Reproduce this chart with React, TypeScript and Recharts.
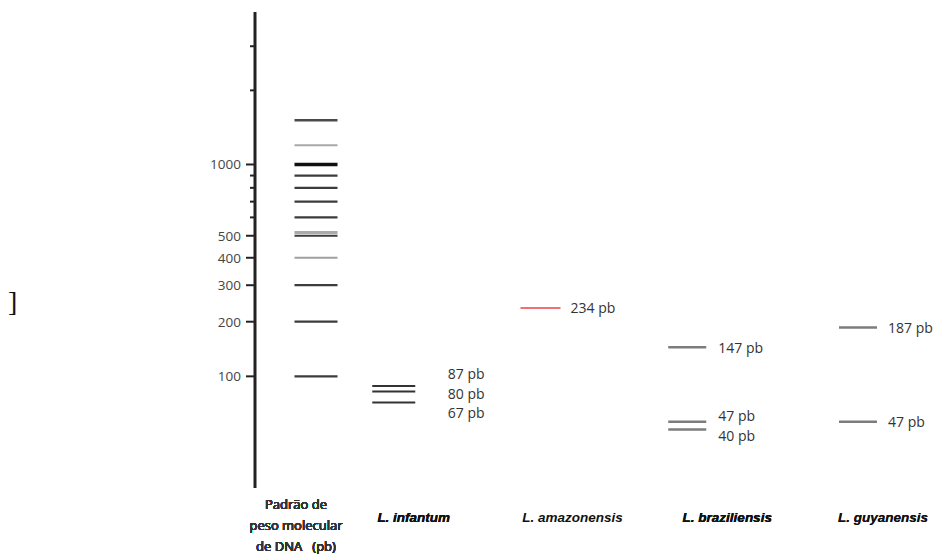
import React from "react";
import { ComposedChart, Scatter, XAxis, YAxis } from "recharts";

// lanes of the gel, left to right
const lanes = [
  "Padrão de\npeso molecular\nde DNA   (pb)",
  "L. infantum",
  "L. amazonensis",
  "L. braziliensis",
  "L. guyanensis",
];

// band sizes (pb) in each lane
const ladderBands = [1517, 1200, 1000, 900, 800, 700, 600, 517, 500, 400, 300, 200, 100];
const infantumBands = [87, 80, 67];
const amazonensisBands = [234];
const braziliensisBands = [147, 47, 40];
const guyanensisBands = [187, 47];

const labeledTicks = [100, 200, 300, 400, 500, 1000];
const minorTicks = [600, 700, 800, 900, 2000, 3000];

const laneBands = [ladderBands, infantumBands, amazonensisBands, braziliensisBands, guyanensisBands];

const W = 951;
const H = 555;
const TOP = 12;
const BOTTOM = 488;
const Y_DOMAIN = [0, 4100];

// symlog scale (log(1 + v / c)), gel migration is roughly like this
function symlogScale(c: number) {
  let dom = [0, 1];
  let rng = [0, 1];
  const t = (v: number) => Math.sign(v) * Math.log1p(Math.abs(v) / c);
  const tInv = (u: number) => Math.sign(u) * Math.expm1(Math.abs(u)) * c;
  const s: any = (v: number) => {
    const a = t(dom[0]);
    const b = t(dom[1]);
    return rng[0] + ((t(v) - a) / (b - a)) * (rng[1] - rng[0]);
  };
  s.domain = (d?: number[]) => {
    if (d === undefined) return dom.slice();
    dom = d.map(Number);
    return s;
  };
  s.range = (r?: number[]) => {
    if (r === undefined) return rng.slice();
    rng = r.map(Number);
    return s;
  };
  s.invert = (p: number) => {
    const a = t(dom[0]);
    const b = t(dom[1]);
    return tInv(a + ((p - rng[0]) / (rng[1] - rng[0])) * (b - a));
  };
  s.ticks = () => [...labeledTicks, ...minorTicks].sort((a, b) => a - b);
  s.tickFormat = () => (v: number) => String(v);
  s.clamp = () => s;
  s.nice = () => s;
  s.copy = () => symlogScale(c).domain(dom).range(rng);
  return s;
}

const yScale = symlogScale(58).domain(Y_DOMAIN).range([BOTTOM, TOP]);

const laneStyle: Record<
  string,
  { dx: number; len: number; color: string; width: number; gap: number; textDx: number }
> = {
  [lanes[0]]: { dx: 35, len: 43, color: "#3c3c3c", width: 2.2, gap: 0, textDx: 15 },
  [lanes[1]]: { dx: -36, len: 43, color: "#333", width: 2, gap: 54, textDx: -16 },
  [lanes[2]]: { dx: -38, len: 40, color: "#f07078", width: 2, gap: 30, textDx: -6 },
  [lanes[3]]: { dx: -40, len: 38, color: "#7c7c7c", width: 2.5, gap: 31, textDx: 0 },
  [lanes[4]]: { dx: -18, len: 38, color: "#7c7c7c", width: 2.5, gap: 30, textDx: 7 },
};

const ladderTone: Record<number, { color: string; width: number }> = {
  1517: { color: "#4a4a4a", width: 2.5 },
  1200: { color: "#a8a8a8", width: 2 },
  1000: { color: "#111", width: 3.5 },
  517: { color: "#aaa", width: 3 },
  400: { color: "#a0a0a0", width: 2 },
};

// rows for the chart; close bands get their labels spread apart
const rows: any[] = [];
lanes.forEach((lane, li) => {
  const groups: number[][] = [];
  laneBands[li].forEach((v) => {
    const g = groups[groups.length - 1];
    if (g && Math.abs(yScale(v) - yScale(g[g.length - 1])) < 18) g.push(v);
    else groups.push([v]);
  });
  groups.forEach((g) => {
    const mid = g.reduce((sum, v) => sum + yScale(v), 0) / g.length;
    g.forEach((v, k) => {
      const labelY = mid + (k - (g.length - 1) / 2) * 19.5;
      rows.push({
        lane,
        bp: v,
        label: li > 0 ? `${v} pb` : null,
        labelShift: labelY - yScale(v),
      });
    });
  });
});

function Band(props: any) {
  const { cx, cy, payload } = props;
  if (cx == null || cy == null) return null;
  const st = laneStyle[payload.lane];
  const tone = payload.label ? st : ladderTone[payload.bp] || st;
  const mx = cx + st.dx;
  return (
    <g>
      <line
        x1={mx - st.len / 2}
        x2={mx + st.len / 2}
        y1={cy}
        y2={cy}
        stroke={tone.color}
        strokeWidth={tone.width}
      />
      {payload.label && (
        <text
          x={mx + st.gap}
          y={cy + payload.labelShift}
          dominantBaseline="central"
          fontFamily="Open Sans"
          fontSize={14}
          fill="#333"
          stroke="none"
        >
          {payload.label}
        </text>
      )}
    </g>
  );
}

function BpTick({ x, y, payload }: any) {
  const v = payload.value;
  const major = labeledTicks.includes(v);
  return (
    <g>
      <line x1={x - (major ? 9 : 5)} x2={x} y1={y} y2={y} stroke="#222" strokeWidth={2} />
      {major && (
        <text
          x={x - 14}
          y={y}
          textAnchor="end"
          dominantBaseline="central"
          fontFamily="Open Sans"
          fontSize={13.5}
          fill="#444"
          stroke="none"
        >
          {v}
        </text>
      )}
    </g>
  );
}

function LaneTick({ x, y, payload }: any) {
  const lines = String(payload.value).split("\n");
  const tx = x + (laneStyle[payload.value]?.textDx ?? 0);
  if (lines.length > 1) {
    return (
      <g>
        {lines.map((l, i) => (
          <text
            key={i}
            x={tx}
            y={y + 16 + i * 21}
            textAnchor="middle"
            dominantBaseline="central"
            fontFamily="Open Sans"
            fontWeight={400}
            fontSize={13}
            fill="#333"
            stroke="none"
            style={{ whiteSpace: "pre" }}
          >
            {l}
          </text>
        ))}
      </g>
    );
  }
  return (
    <text
      x={tx}
      y={y + 29}
      textAnchor="middle"
      dominantBaseline="central"
      fontFamily="Liberation Sans"
      fontWeight={700}
      fontStyle="italic"
      fontSize={13.5}
      fill="#111"
      stroke="none"
    >
      {payload.value}
    </text>
  );
}

export default function App() {
  return (
    <div style={{ position: "relative", width: W, height: H, background: "#fff" }}>
      <style>{"body{margin:0}"}</style>
      <ComposedChart width={W} height={H} data={rows} margin={{ top: TOP, right: 0, bottom: 0, left: 0 }}>
        <XAxis
          dataKey="lane"
          type="category"
          allowDuplicatedCategory={false}
          scale="point"
          padding={{ left: 26, right: 75 }}
          axisLine={false}
          tickLine={false}
          tickSize={0}
          tickMargin={0}
          height={H - BOTTOM}
          interval={0}
          tick={<LaneTick />}
        />
        <YAxis
          dataKey="bp"
          type="number"
          scale={yScale}
          domain={Y_DOMAIN}
          allowDataOverflow
          ticks={[...labeledTicks, ...minorTicks]}
          interval={0}
          width={255}
          axisLine={{ stroke: "#222", strokeWidth: 3 }}
          tickLine={false}
          tickSize={0}
          tickMargin={0}
          tick={<BpTick />}
        />
        <Scatter dataKey="bp" isAnimationActive={false} shape={<Band />} />
      </ComposedChart>
      <svg width={30} height={40} style={{ position: "absolute", left: 0, top: 282 }}>
        <text x={8} y={29} fontFamily="Liberation Serif" fontSize={28} fill="#111">
          ]
        </text>
      </svg>
    </div>
  );
}
